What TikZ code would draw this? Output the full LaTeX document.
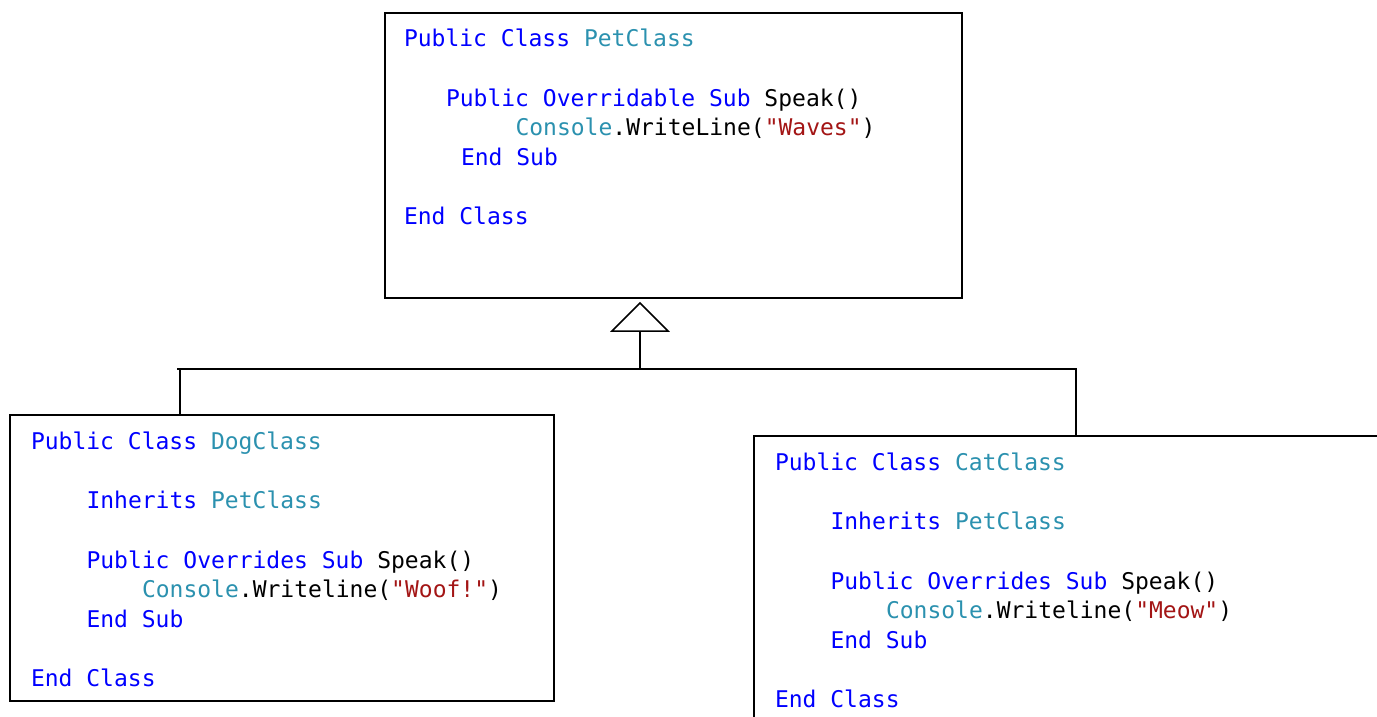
\documentclass[tikz,border=0pt]{standalone}
\usepackage{fontspec}
\newfontfamily\codefont{DejaVu Sans Mono}
\definecolor{kw}{HTML}{0000FF}
\definecolor{ty}{HTML}{2B91AF}
\definecolor{st}{HTML}{A31515}
\newcommand{\kw}[1]{\textcolor{kw}{#1}}
\newcommand{\ty}[1]{\textcolor{ty}{#1}}
\newcommand{\st}[1]{\textcolor{st}{#1}}
\tikzset{
  box/.style={draw=black, line width=1.3pt, fill=none, inner sep=0pt, outer sep=0pt, anchor=north west},
  code/.style={anchor=base west, inner sep=0pt, outer sep=0pt, text=black, font=\codefont\fontsize{23}{28}\selectfont},
  conn/.style={draw=black, line width=1.5pt},
}
\begin{document}
\begin{tikzpicture}[x=1pt,y=-1pt]
\useasboundingbox (0,0) rectangle (1377,716);
\clip (0,0) rectangle (1377,716);
\fill[white] (0,0) rectangle (1377,716);

% boxes
\node[box, minimum width=577pt, minimum height=285pt] (pet) at (385,13) {};
\node[box, minimum width=544pt, minimum height=286pt] (dog) at (10,415) {};
\node[box, minimum width=700pt, minimum height=400pt] (cat) at (754,436) {};

% PetClass text
\node[code] (p1) at (404,46) {\kw{Public Class} \ty{PetClass}};
\node[code] (p2) at (446,106) {\kw{Public Overridable Sub} Speak()};
\node[code] (p3) at (515.5,135) {\ty{Console}.WriteLine(\st{"Waves"})};
\node[code] (p4) at (461,165) {\kw{End Sub}};
\node[code] (p5) at (404,224) {\kw{End Class}};

% DogClass text
\node[code] (d1) at (31,449) {\kw{Public Class} \ty{DogClass}};
\node[code] (d2) at (86.5,508.5) {\kw{Inherits} \ty{PetClass}};
\node[code] (d3) at (86.5,568) {\kw{Public Overrides Sub} Speak()};
\node[code] (d4) at (142,597.5) {\ty{Console}.Writeline(\st{"Woof!"})};
\node[code] (d5) at (86.5,627) {\kw{End Sub}};
\node[code] (d6) at (31,686) {\kw{End Class}};

% CatClass text
\node[code] (c1) at (775,470) {\kw{Public Class} \ty{CatClass}};
\node[code] (c2) at (830.5,529.5) {\kw{Inherits} \ty{PetClass}};
\node[code] (c3) at (830.5,589) {\kw{Public Overrides Sub} Speak()};
\node[code] (c4) at (886,618.5) {\ty{Console}.Writeline(\st{"Meow"})};
\node[code] (c5) at (830.5,648) {\kw{End Sub}};
\node[code] (c6) at (775,707) {\kw{End Class}};

% inheritance connector
\coordinate (apex) at (640,303);
\coordinate (tribase) at (640,331);
\coordinate (junc) at (640,369);
\coordinate (busL) at (177,369);
\coordinate (busR) at (1077,369);
\coordinate (dl) at (180,369);
\coordinate (cr) at (1076,369);

\draw[conn, line join=miter] (apex) -- ++(-28,28) -- ++(56,0) -- cycle;
\draw[conn] (tribase) -- (junc);
\draw[conn] (busL) -- (busR);
\draw[conn] (dl) -- (dl |- dog.north);
\draw[conn] (cr) -- (cr |- cat.north);
\end{tikzpicture}
\end{document}
